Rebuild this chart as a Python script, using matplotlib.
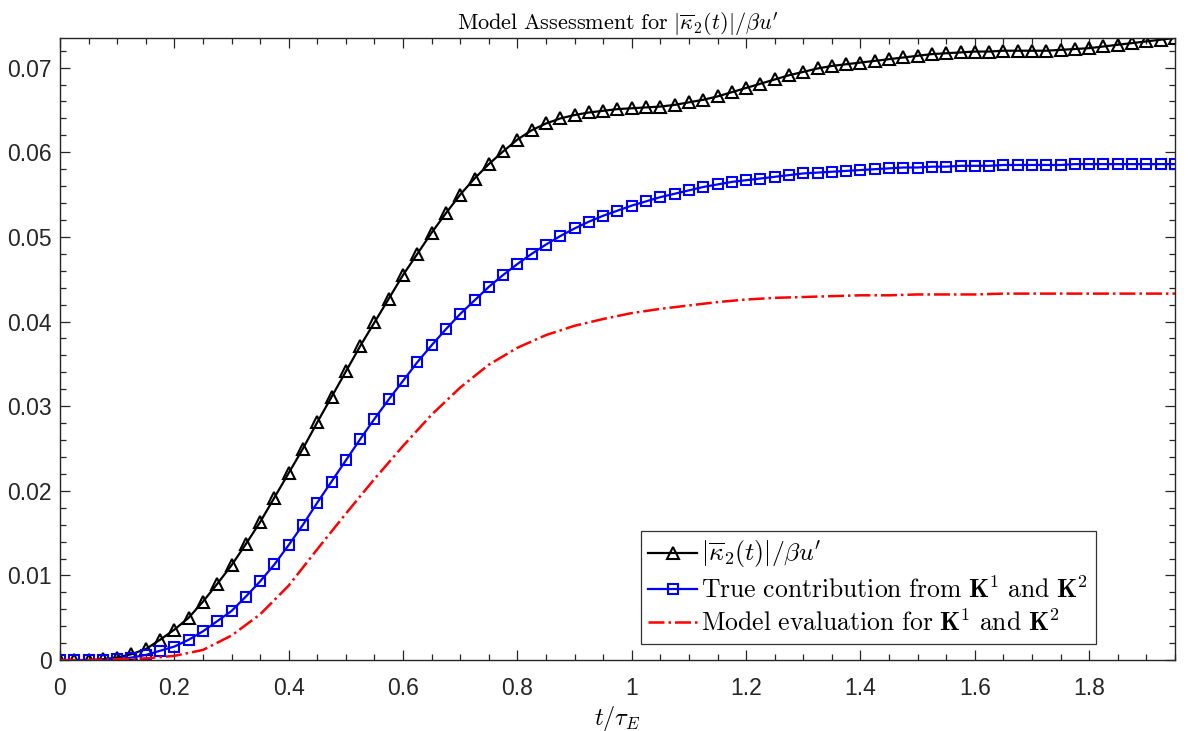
import numpy as np
import matplotlib
matplotlib.use("Agg")
import matplotlib.pyplot as plt
from matplotlib.ticker import MultipleLocator

plt.rcParams['mathtext.fontset'] = 'cm'
plt.rcParams['font.family'] = ['Liberation Sans', 'DejaVu Sans']

# time samples (markers every 0.025)
t_marked = [round(0.025 * i, 3) for i in range(79)]

kappa_total = [
    0.0000, 0.0000, 0.0000, 0.0001, 0.0003, 0.0007, 0.0013, 0.0024, 0.0036, 0.0050,
    0.0069, 0.0090, 0.0112, 0.0137, 0.0163, 0.0192, 0.0221, 0.0250, 0.0281, 0.0311,
    0.0341, 0.0371, 0.0399, 0.0427, 0.0455, 0.0480, 0.0505, 0.0528, 0.0550, 0.0569,
    0.0586, 0.0601, 0.0615, 0.0626, 0.0634, 0.0640, 0.0644, 0.0647, 0.0649, 0.0651,
    0.0652, 0.0653, 0.0654, 0.0656, 0.0659, 0.0662, 0.0666, 0.0671, 0.0676, 0.0681,
    0.0686, 0.0691, 0.0695, 0.0699, 0.0702, 0.0704, 0.0706, 0.0708, 0.0710, 0.0712,
    0.0714, 0.0716, 0.0717, 0.0718, 0.0719, 0.0719, 0.0720, 0.0720, 0.0720, 0.0720,
    0.0721, 0.0722, 0.0723, 0.0725, 0.0727, 0.0729, 0.0731, 0.0733, 0.0735,
]

true_contrib = [
    0.0000, 0.0000, 0.0000, 0.0000, 0.0001, 0.0003, 0.0006, 0.0011, 0.0016, 0.0024,
    0.0034, 0.0046, 0.0058, 0.0075, 0.0093, 0.0113, 0.0136, 0.0160, 0.0186, 0.0211,
    0.0236, 0.0261, 0.0285, 0.0308, 0.0330, 0.0352, 0.0372, 0.0391, 0.0409, 0.0425,
    0.0441, 0.0455, 0.0468, 0.0480, 0.0491, 0.0501, 0.0510, 0.0518, 0.0525, 0.0531,
    0.0537, 0.0542, 0.0547, 0.0551, 0.0555, 0.0559, 0.0562, 0.0565, 0.0567, 0.0569,
    0.0571, 0.0573, 0.0575, 0.0576, 0.0577, 0.0578, 0.0579, 0.0580, 0.0581, 0.0582,
    0.0582, 0.0583, 0.0583, 0.0584, 0.0584, 0.0584, 0.0585, 0.0585, 0.0585, 0.0585,
    0.0585, 0.0586, 0.0586, 0.0586, 0.0586, 0.0586, 0.0586, 0.0586, 0.0586,
]

t_model = [round(0.05 * i, 2) for i in range(40)]
model_eval = [
    0.0000, 0.0000, 0.0001, 0.0002, 0.0005, 0.0012, 0.0029, 0.0054, 0.0088, 0.0131,
    0.0173, 0.0214, 0.0253, 0.0290, 0.0322, 0.0349, 0.0369, 0.0384, 0.0395, 0.0403,
    0.0410, 0.0415, 0.0419, 0.0423, 0.0426, 0.0428, 0.0429, 0.0430, 0.0431, 0.0431,
    0.0432, 0.0432, 0.0432, 0.0433, 0.0433, 0.0433, 0.0433, 0.0433, 0.0433, 0.0433,
]

labels = [
    r"$|\overline{\kappa}_2(t)|/\beta u'$",
    r"$\mathrm{True\ contribution\ from\ }\mathbf{K}^1\mathrm{\ and\ }\mathbf{K}^2$",
    r"$\mathrm{Model\ evaluation\ for\ }\mathbf{K}^1\mathrm{\ and\ }\mathbf{K}^2$",
]
title = r"$\mathrm{Model\ Assessment\ for\ }|\overline{\kappa}_2(t)|/\beta u'$"
xlabel = r"$t/\tau_E$"

fig = plt.figure(figsize=(11.88, 7.31), dpi=100)
ax = fig.add_axes([0.0505, 0.097, 0.9385, 0.851])

ax.plot(t_marked, kappa_total, color='black', lw=1.6, marker='^', ms=8.5,
        mfc='none', mec='black', mew=1.5, label=labels[0])
ax.plot(t_marked, true_contrib, color='#0000ff', lw=1.6, marker='s', ms=7.5,
        mfc='none', mec='#0000ff', mew=1.5, label=labels[1])
ax.plot(t_model, model_eval, color='#ff0000', lw=1.8, ls='-.', label=labels[2])

ax.set_xlim(0, 1.95)
ax.set_ylim(0, max(kappa_total))

ax.xaxis.set_minor_locator(MultipleLocator(0.05))
ax.yaxis.set_minor_locator(MultipleLocator(0.002))
ax.set_xticks(np.arange(0, 1.81, 0.2))
ax.set_xticklabels(['0', '0.2', '0.4', '0.6', '0.8', '1', '1.2', '1.4', '1.6', '1.8'],
                   fontsize=16.5)
ax.set_yticks(np.arange(0, 0.0701, 0.01))
ax.set_yticklabels(['0', '0.01', '0.02', '0.03', '0.04', '0.05', '0.06', '0.07'],
                   fontsize=16.5)

spine_c = '#262626'
for s in ax.spines.values():
    s.set_color(spine_c)
    s.set_linewidth(1.0)
ax.tick_params(which='both', direction='in', top=True, right=True,
               color=spine_c, labelcolor='#262626', width=0.9)
ax.tick_params(which='major', length=7)
ax.tick_params(which='minor', length=4)
ax.tick_params(axis='x', pad=12)
ax.tick_params(axis='y', pad=6)

ax.set_title(title, fontsize=16, pad=6)
ax.set_xlabel(xlabel, fontsize=17.5, labelpad=3)

leg = ax.legend(loc='lower right', bbox_to_anchor=(0.929, 0.026), fontsize=18.5,
                frameon=True, fancybox=False, edgecolor='black',
                handlelength=1.9, handletextpad=0.15, borderpad=0.3,
                labelspacing=0.25, borderaxespad=0.0)
leg.get_frame().set_linewidth(0.9)

fig.savefig('out.png', dpi=100)
